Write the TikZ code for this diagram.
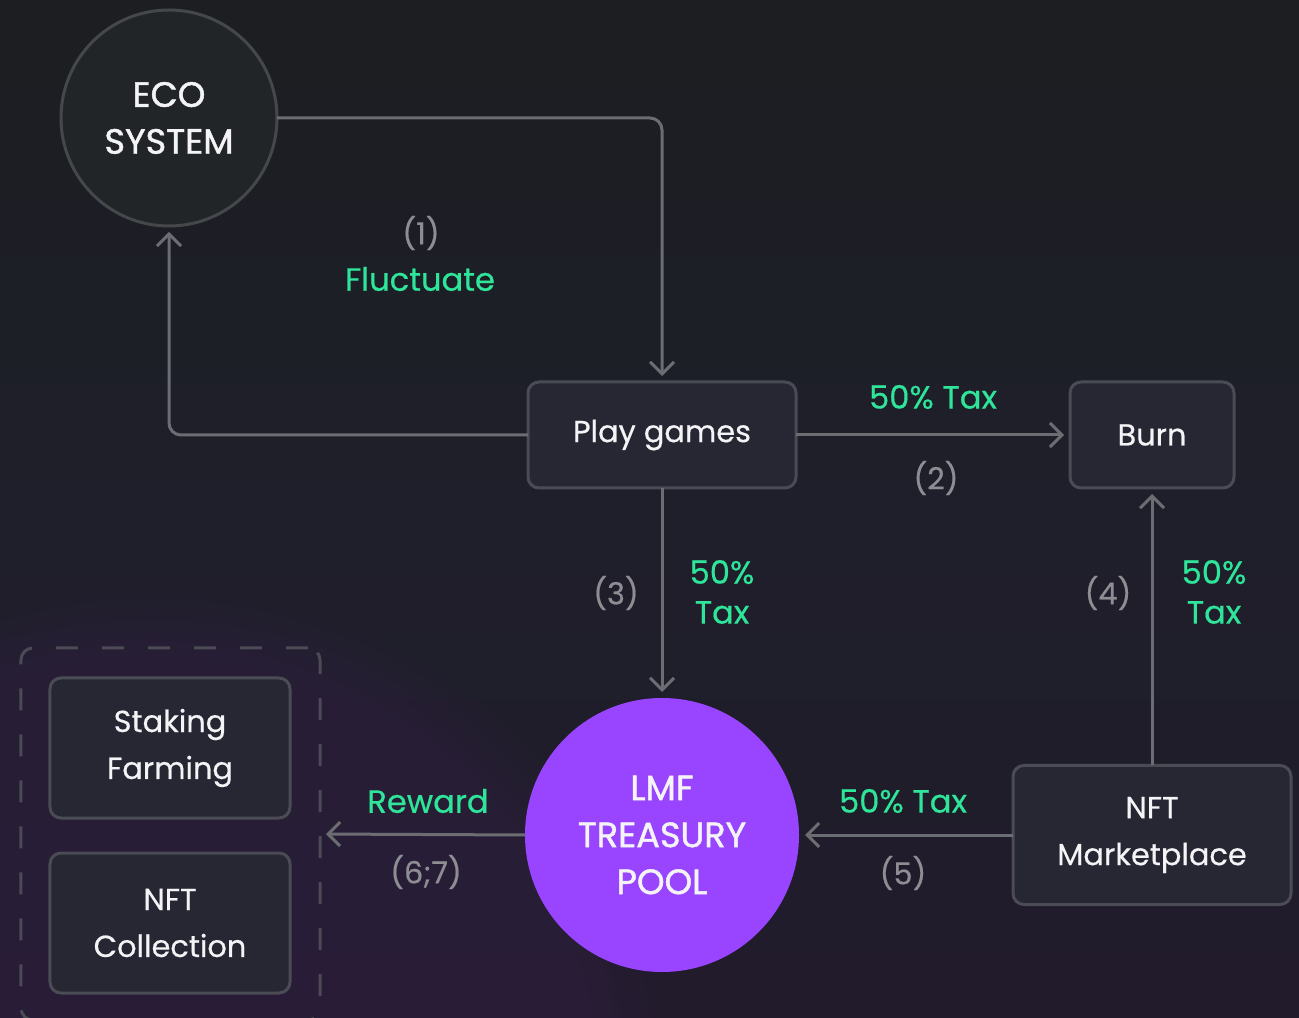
\documentclass[tikz,border=0pt]{standalone}
\usepackage{fontspec}
\setmainfont{Poppins}
\newfontfamily\medfont[FakeBold=0.5]{Poppins}
\newfontfamily\semifont[FakeBold=1.3]{Poppins}
\usetikzlibrary{arrows.meta,fadings}
\definecolor{bgtop}{HTML}{1C1E21}
\definecolor{bgmid}{HTML}{1E1F2A}
\definecolor{bgbot}{HTML}{221B2C}
\definecolor{glowc}{HTML}{3A2150}
\definecolor{boxfill}{HTML}{262733}
\definecolor{boxline}{HTML}{4A4B54}
\definecolor{ecofill}{HTML}{222528}
\definecolor{ecoline}{HTML}{45484B}
\definecolor{connc}{HTML}{6C6D72}
\definecolor{greytxt}{HTML}{8D8D93}
\definecolor{greentxt}{HTML}{2EE59A}
\definecolor{lmfc}{HTML}{9945FF}
\definecolor{txtc}{HTML}{F4F4F6}
\newcommand{\fsz}{\medfont\fontsize{17.3}{26.7}\selectfont}
\newcommand{\tsz}{\semifont\fontsize{20}{26.7}\selectfont}
\newcommand{\gsz}{\medfont\fontsize{18.3}{22.7}\selectfont}
\begin{document}
\begin{tikzpicture}[x=0.2mm,y=-0.2mm,
  box/.style={draw=boxline, fill=boxfill, line width=0.6mm, rounded corners=2.2mm,
    inner sep=0pt, outer sep=0pt, align=center, text=txtc, font=\fsz},
  ecocircle/.style={circle, draw=ecoline, fill=ecofill, line width=0.6mm, minimum size=43.2mm,
    inner sep=0pt, outer sep=0pt, align=center, text=txtc, font=\tsz},
  lmfcircle/.style={circle, fill=lmfc, minimum size=54.8mm, inner sep=0pt, outer sep=0pt,
    align=center, text=txtc, font=\tsz},
  groupbox/.style={draw=boxline, line width=0.6mm, rounded corners=2.4mm,
    dash pattern=on 4.4mm off 4.8mm, minimum width=59.8mm, minimum height=74.4mm,
    inner sep=0pt, outer sep=0pt},
  conn/.style={draw=connc, line width=0.6mm, rounded corners=2.4mm,
    -{Straight Barb[length=2.4mm,width=4.8mm]}, shorten >=1.2mm},
  lbl/.style={text=greytxt, font=\fsz, inner sep=0pt},
  tag/.style={text=greentxt, font=\gsz, inner sep=0pt, align=center},
]
\useasboundingbox (0,0) rectangle (1299,1018);
% background
\shade[top color=bgtop, bottom color=bgbot, middle color=bgmid] (0,0) rectangle (1299,1018);
\fill[glowc, path fading=circle with fuzzy edge 15 percent, fill opacity=0.3] (150,1100) circle (520);

% nodes
\node[ecocircle] (eco) at (169,118) {ECO\\SYSTEM};
\node[box, minimum width=53.6mm, minimum height=21.2mm] (play) at (662,435) {Play games};
\node[box, minimum width=32.8mm, minimum height=21.2mm] (burn) at (1152,435) {Burn};
\node[box, minimum width=55.6mm, minimum height=27.8mm] (nft) at (1152,835) {NFT\\Marketplace};
\node[lmfcircle] (lmf) at (662,835) {LMF\\TREASURY\\POOL};
\node[groupbox] (group) at (170.5,834) {};
\node[box, minimum width=48mm, minimum height=28mm] (stake) at (170,748) {Staking\\Farming};
\node[box, minimum width=48mm, minimum height=28mm] (coll) at (170,923) {NFT\\Collection};

% connectors
\draw[conn] (eco.east) -| (play.north);
\draw[conn] (play.west) -| (eco.south);
\draw[conn] (play.east) -- (burn.west);
\draw[conn] (play.south) -- (lmf.north);
\draw[conn] (nft.north) -- (burn.south);
\draw[conn] (nft.west) -- (lmf.east);
\draw[conn] (lmf.west) -- (group.east);

% labels
\node[lbl] (l1) at (421,233) {(1)};
\node[tag] (t1) at (420,279) {Fluctuate};
\node[tag] (t2) at (933,397) {50\% Tax};
\node[lbl] (l2) at (936,478) {(2)};
\node[lbl] (l3) at (616,593) {(3)};
\node[tag] (t3) at (722,592) {50\%\\Tax};
\node[lbl] (l4) at (1108,593) {(4)};
\node[tag] (t4) at (1214,592) {50\%\\Tax};
\node[tag] (t6) at (428,801) {Reward};
\node[lbl] (l6) at (426,872) {(6;7)};
\node[tag] (t5) at (903,801) {50\% Tax};
\node[lbl] (l5) at (903,873) {(5)};
\end{tikzpicture}
\end{document}
